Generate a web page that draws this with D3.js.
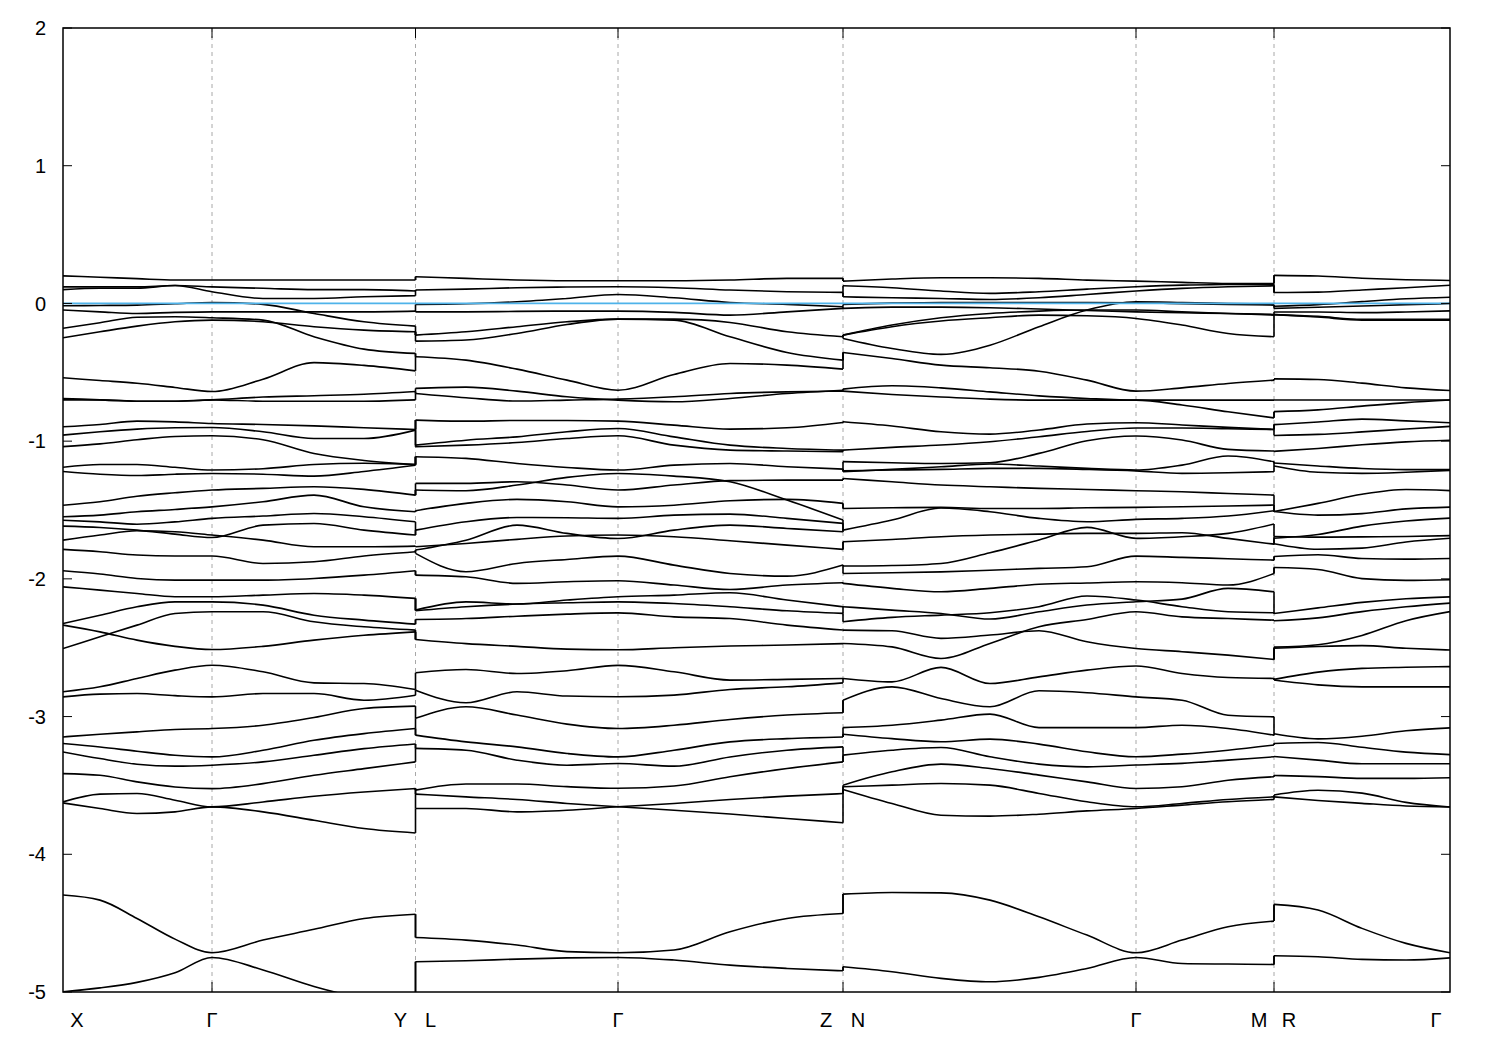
<!DOCTYPE html>
<html><head><meta charset="utf-8">
<script src="https://cdn.jsdelivr.net/npm/d3@7"></script>
<style>body{margin:0;background:#fff;} svg{display:block;} text{font-family:"Liberation Sans",Arial,sans-serif;}</style>
</head><body><svg id="chart" width="1500" height="1050"></svg>
<script>
// ---- axis / label data ----
const yTicks = [2, 1, 0, -1, -2, -3, -4, -5];
const kLabels = ["X", "Γ", "Y", "L", "Γ", "Z", "N", "Γ", "M", "R", "Γ"];
const kLabelPos = [0, 149, 352.5, 352.5, 555, 780, 780, 1073, 1211, 1211, 1387];
const kSymLines = [149, 352.5, 555, 780, 1073, 1211];
const fermiLevel = 0;

// ---- panel 1: X - Γ - Y ----
const kPath1 = [0, 37, 74, 112, 149, 200, 251, 301, 352.5];
const bands1 = [
 [.20,.19,.18,.17,.17,.17,.17,.17,.17],
 [.12,.12,.12,.13,.12,.11,.10,.10,.09],
 [.10,.11,.11,.13,.085,.036,.036,.048,.056],
 [-.017,-.015,-.012,-.002,.007,-.007,-.073,-.133,-.165],
 [-.048,-.061,-.073,-.065,-.061,-.061,-.061,-.061,-.056],
 [-.18,-.14,-.10,-.097,-.104,-.121,-.242,-.332,-.363],
 [-.249,-.206,-.165,-.133,-.121,-.133,-.169,-.194,-.206],
 [-.54,-.56,-.58,-.61,-.64,-.55,-.43,-.45,-.49],
 [-.69,-.70,-.71,-.71,-.70,-.71,-.71,-.71,-.70],
 [-.70,-.70,-.71,-.71,-.70,-.68,-.67,-.66,-.64],
 [-.896,-.879,-.855,-.860,-.872,-.879,-.889,-.903,-.915],
 [-.956,-.932,-.913,-.903,-.901,-.932,-.981,-.981,-.92],
 [-1.04,-1.02,-.99,-.966,-.961,-.99,-1.09,-1.14,-1.17],
 [-1.19,-1.17,-1.17,-1.19,-1.21,-1.20,-1.17,-1.16,-1.17],
 [-1.22,-1.24,-1.25,-1.24,-1.235,-1.24,-1.254,-1.22,-1.175],
 [-1.465,-1.44,-1.40,-1.375,-1.355,-1.343,-1.331,-1.35,-1.392],
 [-1.549,-1.537,-1.513,-1.496,-1.477,-1.44,-1.392,-1.477,-1.513],
 [-1.574,-1.586,-1.603,-1.586,-1.561,-1.544,-1.525,-1.549,-1.586],
 [-1.617,-1.627,-1.646,-1.675,-1.700,-1.610,-1.598,-1.646,-1.682],
 [-1.719,-1.682,-1.651,-1.658,-1.682,-1.719,-1.767,-1.767,-1.762],
 [-1.786,-1.803,-1.827,-1.834,-1.834,-1.888,-1.876,-1.834,-1.803],
 [-1.941,-1.965,-1.997,-2.009,-2.009,-2.009,-1.997,-1.973,-1.941],
 [-2.058,-2.082,-2.106,-2.130,-2.130,-2.118,-2.106,-2.118,-2.142],
 [-2.324,-2.264,-2.203,-2.167,-2.167,-2.191,-2.264,-2.300,-2.329],
 [-2.336,-2.385,-2.445,-2.49,-2.513,-2.49,-2.445,-2.41,-2.385],
 [-2.506,-2.421,-2.336,-2.251,-2.239,-2.239,-2.312,-2.348,-2.372],
 [-2.82,-2.784,-2.723,-2.663,-2.627,-2.675,-2.755,-2.760,-2.803],
 [-2.857,-2.837,-2.833,-2.848,-2.857,-2.833,-2.833,-2.881,-2.845],
 [-3.148,-3.128,-3.111,-3.094,-3.087,-3.063,-3.007,-2.941,-2.924],
 [-3.196,-3.221,-3.252,-3.281,-3.293,-3.245,-3.172,-3.124,-3.087],
 [-3.257,-3.305,-3.346,-3.360,-3.353,-3.329,-3.281,-3.233,-3.199],
 [-3.414,-3.426,-3.474,-3.511,-3.523,-3.487,-3.426,-3.378,-3.329],
 [-3.62,-3.563,-3.559,-3.607,-3.656,-3.620,-3.579,-3.548,-3.523],
 [-3.627,-3.668,-3.704,-3.692,-3.656,-3.692,-3.753,-3.813,-3.845],
 [-4.296,-4.333,-4.466,-4.616,-4.715,-4.623,-4.545,-4.466,-4.435],
 [-4.998,-4.97,-4.93,-4.86,-4.749,-4.84,-4.96,-5.05,-5.12]
];

// ---- panel 2: L - Γ - Z ----
const kPath2 = [352.5, 403, 454, 504, 555, 611, 667, 724, 780];
const bands2 = [
 [.194,.182,.17,.165,.165,.165,.17,.182,.182],
 [.097,.104,.114,.119,.121,.114,.097,.085,.080],
 [-.007,-.002,.012,.036,.065,.041,.007,-.007,-.024],
 [-.061,-.061,-.058,-.056,-.056,-.065,-.085,-.061,-.036],
 [-.23,-.206,-.169,-.133,-.114,-.114,-.138,-.206,-.242],
 [-.274,-.266,-.218,-.153,-.114,-.121,-.242,-.356,-.412],
 [-.387,-.412,-.477,-.557,-.630,-.516,-.436,-.448,-.477],
 [-.617,-.608,-.637,-.678,-.702,-.714,-.690,-.654,-.630],
 [-.654,-.685,-.709,-.702,-.695,-.678,-.654,-.642,-.637],
 [-.847,-.855,-.850,-.850,-.855,-.884,-.913,-.903,-.864],
 [-1.029,-.993,-.969,-.932,-.908,-.969,-1.029,-1.053,-1.065],
 [-1.041,-1.029,-1.010,-.981,-.961,-1.029,-1.065,-1.072,-1.077],
 [-1.113,-1.125,-1.162,-1.191,-1.210,-1.174,-1.162,-1.186,-1.203],
 [-1.307,-1.307,-1.295,-1.319,-1.355,-1.319,-1.287,-1.283,-1.283],
 [-1.355,-1.360,-1.319,-1.263,-1.235,-1.254,-1.295,-1.428,-1.573],
 [-1.505,-1.452,-1.423,-1.440,-1.477,-1.465,-1.433,-1.423,-1.452],
 [-1.646,-1.585,-1.554,-1.556,-1.561,-1.537,-1.530,-1.561,-1.597],
 [-1.791,-1.719,-1.610,-1.670,-1.707,-1.646,-1.610,-1.634,-1.658],
 [-1.767,-1.743,-1.713,-1.689,-1.682,-1.694,-1.723,-1.755,-1.786],
 [-1.815,-1.948,-1.888,-1.859,-1.835,-1.900,-1.961,-1.980,-1.900],
 [-1.973,-1.985,-2.033,-2.021,-2.014,-2.045,-2.077,-2.045,-2.028],
 [-2.227,-2.167,-2.183,-2.154,-2.130,-2.118,-2.101,-2.154,-2.203],
 [-2.232,-2.203,-2.183,-2.174,-2.167,-2.179,-2.203,-2.232,-2.251],
 [-2.295,-2.288,-2.271,-2.256,-2.247,-2.276,-2.288,-2.336,-2.372],
 [-2.44,-2.47,-2.49,-2.51,-2.515,-2.50,-2.488,-2.48,-2.47],
 [-2.682,-2.658,-2.687,-2.667,-2.628,-2.675,-2.735,-2.730,-2.723],
 [-2.808,-2.900,-2.820,-2.851,-2.856,-2.844,-2.803,-2.784,-2.755],
 [-3.013,-2.929,-2.989,-3.055,-3.087,-3.063,-3.021,-2.989,-2.972],
 [-3.135,-3.184,-3.220,-3.268,-3.293,-3.244,-3.184,-3.160,-3.148],
 [-3.231,-3.244,-3.317,-3.353,-3.341,-3.360,-3.293,-3.244,-3.220],
 [-3.534,-3.490,-3.490,-3.509,-3.521,-3.504,-3.437,-3.377,-3.329],
 [-3.563,-3.583,-3.602,-3.631,-3.655,-3.680,-3.708,-3.740,-3.771],
 [-3.667,-3.667,-3.692,-3.680,-3.655,-3.631,-3.602,-3.578,-3.559],
 [-4.604,-4.623,-4.659,-4.707,-4.715,-4.695,-4.562,-4.466,-4.43],
 [-4.780,-4.773,-4.761,-4.752,-4.749,-4.768,-4.805,-4.829,-4.846]
];

// ---- panel 3: N - Γ - M ----
const kPath3 = [780, 829, 878, 927, 976, 1024, 1073, 1119, 1165, 1211];
const bands3 = [
 [.162,.177,.186,.186,.182,.169,.162,.153,.145,.145],
 [.128,.114,.090,.073,.085,.104,.121,.133,.138,.140],
 [.048,.041,.036,.029,.041,.065,.090,.109,.121,.128],
 [-.007,.002,.007,.007,.007,.007,.005,-.002,-.007,-.012],
 [-.036,-.027,-.027,-.031,-.041,-.051,-.061,-.068,-.073,-.080],
 [-.230,-.169,-.128,-.104,-.085,-.090,-.109,-.157,-.218,-.242],
 [-.230,-.157,-.104,-.073,-.056,-.048,-.048,-.061,-.073,-.085],
 [-.254,-.327,-.370,-.303,-.169,-.048,.012,.007,.0,-.007],
 [-.356,-.400,-.448,-.467,-.492,-.557,-.637,-.613,-.581,-.557],
 [-.622,-.598,-.613,-.642,-.671,-.690,-.702,-.702,-.702,-.702],
 [-.637,-.661,-.680,-.695,-.702,-.702,-.702,-.738,-.787,-.831],
 [-.859,-.89,-.932,-.949,-.919,-.876,-.866,-.883,-.9,-.915],
 [-1.065,-1.045,-1.028,-1.004,-.968,-.93,-.905,-.905,-.91,-.915],
 [-1.149,-1.157,-1.162,-1.157,-1.089,-.997,-.963,-.992,-1.060,-1.072],
 [-1.222,-1.205,-1.186,-1.166,-1.181,-1.198,-1.210,-1.174,-1.108,-1.150],
 [-1.216,-1.210,-1.205,-1.198,-1.198,-1.205,-1.216,-1.234,-1.230,-1.222],
 [-1.271,-1.295,-1.319,-1.331,-1.343,-1.351,-1.360,-1.368,-1.380,-1.392],
 [-1.489,-1.484,-1.481,-1.489,-1.489,-1.484,-1.481,-1.476,-1.471,-1.464],
 [-1.646,-1.573,-1.486,-1.513,-1.561,-1.585,-1.568,-1.561,-1.544,-1.505],
 [-1.731,-1.714,-1.694,-1.682,-1.675,-1.670,-1.670,-1.665,-1.706,-1.748],
 [-1.907,-1.903,-1.888,-1.810,-1.718,-1.626,-1.706,-1.694,-1.670,-1.602],
 [-1.961,-1.956,-1.949,-1.937,-1.924,-1.912,-1.835,-1.844,-1.854,-1.864],
 [-2.033,-2.069,-2.094,-2.069,-2.039,-2.030,-2.021,-2.028,-2.045,-1.961],
 [-2.202,-2.227,-2.251,-2.292,-2.239,-2.190,-2.166,-2.147,-2.069,-2.094],
 [-2.311,-2.280,-2.263,-2.246,-2.202,-2.125,-2.154,-2.202,-2.239,-2.246],
 [-2.372,-2.377,-2.432,-2.408,-2.377,-2.457,-2.506,-2.529,-2.554,-2.585],
 [-2.469,-2.494,-2.578,-2.469,-2.348,-2.295,-2.239,-2.276,-2.288,-2.300],
 [-2.723,-2.748,-2.643,-2.760,-2.712,-2.663,-2.633,-2.687,-2.716,-2.723],
 [-2.881,-2.784,-2.869,-2.929,-2.813,-2.827,-2.857,-2.881,-2.990,-3.002],
 [-3.080,-3.063,-3.026,-2.982,-3.080,-3.080,-3.080,-3.063,-3.087,-3.135],
 [-3.128,-3.160,-3.183,-3.164,-3.200,-3.256,-3.292,-3.273,-3.244,-3.207],
 [-3.280,-3.244,-3.225,-3.292,-3.345,-3.365,-3.352,-3.340,-3.316,-3.292],
 [-3.498,-3.401,-3.345,-3.377,-3.425,-3.474,-3.522,-3.510,-3.462,-3.437],
 [-3.510,-3.498,-3.486,-3.498,-3.558,-3.619,-3.655,-3.631,-3.602,-3.583],
 [-3.529,-3.631,-3.716,-3.723,-3.709,-3.685,-3.667,-3.643,-3.619,-3.602],
 [-4.289,-4.277,-4.280,-4.333,-4.454,-4.587,-4.715,-4.623,-4.526,-4.485],
 [-4.817,-4.853,-4.901,-4.926,-4.894,-4.829,-4.749,-4.793,-4.797,-4.800]
];

// ---- panel 4: R - Γ ----
const kPath4 = [1211, 1255, 1299, 1343, 1387];
const bands4 = [
 [.204,.199,.183,.172,.167],
 [.079,.082,.098,.114,.132],
 [-.020,-.009,.013,.034,.045],
 [-.036,-.028,-.019,-.009,-.001],
 [-.062,-.062,-.067,-.062,-.054],
 [-.081,-.094,-.115,-.115,-.115],
 [-.081,-.099,-.121,-.121,-.121],
 [-.548,-.552,-.579,-.613,-.632],
 [-.701,-.701,-.701,-.701,-.701],
 [-.786,-.773,-.746,-.720,-.701],
 [-.880,-.861,-.840,-.853,-.866],
 [-.959,-.951,-.933,-.912,-.893],
 [-1.074,-1.053,-1.026,-1.005,-.994],
 [-1.159,-1.180,-1.199,-1.207,-1.207],
 [-1.180,-1.226,-1.234,-1.226,-1.212],
 [-1.511,-1.452,-1.386,-1.351,-1.359],
 [-1.511,-1.537,-1.526,-1.492,-1.479],
 [-1.705,-1.678,-1.617,-1.580,-1.559],
 [-1.692,-1.697,-1.695,-1.692,-1.686],
 [-1.745,-1.785,-1.777,-1.732,-1.705],
 [-1.838,-1.825,-1.852,-1.857,-1.852],
 [-1.918,-1.932,-1.998,-2.011,-2.006],
 [-2.251,-2.211,-2.171,-2.145,-2.131],
 [-2.304,-2.283,-2.238,-2.203,-2.176],
 [-2.496,-2.478,-2.411,-2.304,-2.238],
 [-2.504,-2.491,-2.485,-2.504,-2.517],
 [-2.730,-2.677,-2.650,-2.642,-2.637],
 [-2.735,-2.770,-2.784,-2.784,-2.784],
 [-3.125,-3.162,-3.143,-3.103,-3.082],
 [-3.196,-3.188,-3.223,-3.258,-3.276],
 [-3.290,-3.316,-3.343,-3.343,-3.343],
 [-3.428,-3.436,-3.449,-3.449,-3.444],
 [-3.569,-3.535,-3.556,-3.623,-3.657],
 [-3.583,-3.609,-3.630,-3.649,-3.657],
 [-4.364,-4.405,-4.538,-4.647,-4.715],
 [-4.737,-4.744,-4.763,-4.768,-4.752]
];

const panels = [
  {k: kPath1, bands: bands1},
  {k: kPath2, bands: bands2},
  {k: kPath3, bands: bands3},
  {k: kPath4, bands: bands4}
];

// ---- drawing ----
const pLeft = 63, pRight = 1450, pTop = 28, pBottom = 992;
const x = d3.scaleLinear().domain([0, 1387]).range([pLeft, pRight]);
const y = d3.scaleLinear().domain([-5, 2]).range([pBottom, pTop]);
const svg = d3.select("#chart");

svg.append("defs").append("clipPath").attr("id", "plotclip")
  .append("rect").attr("x", pLeft).attr("y", pTop).attr("width", pRight - pLeft).attr("height", pBottom - pTop);

// symmetry dashed lines
svg.append("g").selectAll("line").data(kSymLines).join("line")
  .attr("x1", d => x(d)).attr("x2", d => x(d)).attr("y1", pTop).attr("y2", pBottom)
  .attr("stroke", "#a8a8a8").attr("stroke-width", 1).attr("stroke-dasharray", "4,4");

const plot = svg.append("g").attr("clip-path", "url(#plotclip)");
const bandLine = d3.line().x(d => x(d[0])).y(d => y(d[1])).curve(d3.curveMonotoneX);

panels.forEach(p => {
  plot.append("g").selectAll("path").data(p.bands).join("path")
    .attr("d", b => bandLine(p.k.map((kv, i) => [kv, b[i]])))
    .attr("fill", "none").attr("stroke", "#000").attr("stroke-width", 1.6)
    .attr("stroke-linejoin", "round");
});

// vertical jumps at the path discontinuities
for (let i = 0; i < panels.length - 1; i++) {
  const a = panels[i], b = panels[i + 1];
  const kd = a.k[a.k.length - 1];
  const ends = a.bands.map(v => v[v.length - 1]);
  const starts = b.bands.map(v => v[0]);
  const segs = [];
  const nearest = (v, arr) => arr.reduce((best, c) => Math.abs(c - v) < Math.abs(best - v) ? c : best, arr[0]);
  ends.forEach(e => segs.push([e, nearest(e, starts)]));
  starts.forEach(s => segs.push([nearest(s, ends), s]));
  plot.append("g").selectAll("line").data(segs).join("line")
    .attr("x1", x(kd)).attr("x2", x(kd))
    .attr("y1", d => y(d[0])).attr("y2", d => y(d[1]))
    .attr("stroke", "#000").attr("stroke-width", 1.6);
}

// Fermi level
plot.append("line").attr("x1", pLeft).attr("x2", pRight)
  .attr("y1", y(fermiLevel)).attr("y2", y(fermiLevel))
  .attr("stroke", "#4fb3ea").attr("stroke-width", 1.8);

// frame
svg.append("rect").attr("x", pLeft).attr("y", pTop).attr("width", pRight - pLeft).attr("height", pBottom - pTop)
  .attr("fill", "none").attr("stroke", "#000").attr("stroke-width", 1.5);

// y ticks (mirrored)
const yt = svg.append("g");
yTicks.forEach(t => {
  yt.append("line").attr("x1", pLeft).attr("x2", pLeft + 9).attr("y1", y(t)).attr("y2", y(t)).attr("stroke", "#000");
  yt.append("line").attr("x1", pRight - 9).attr("x2", pRight).attr("y1", y(t)).attr("y2", y(t)).attr("stroke", "#000");
  yt.append("text").attr("x", pLeft - 17).attr("y", y(t)).attr("dy", "0.36em")
    .attr("text-anchor", "end").attr("font-size", 20).text(String(t));
});

// x ticks at symmetry points
const xt = svg.append("g");
kSymLines.forEach(k => {
  xt.append("line").attr("x1", x(k)).attr("x2", x(k)).attr("y1", pBottom).attr("y2", pBottom - 10).attr("stroke", "#000");
  xt.append("line").attr("x1", x(k)).attr("x2", x(k)).attr("y1", pTop).attr("y2", pTop + 10).attr("stroke", "#000");
});
const labelShift = [14, 0, -15, 15, 0, -17, 15, 0, -15, 15, -14];
kLabels.forEach((lab, i) => {
  xt.append("text").attr("x", x(kLabelPos[i]) + labelShift[i]).attr("y", 1027)
    .attr("text-anchor", "middle").attr("font-size", 20).text(lab);
});
</script></body></html>
